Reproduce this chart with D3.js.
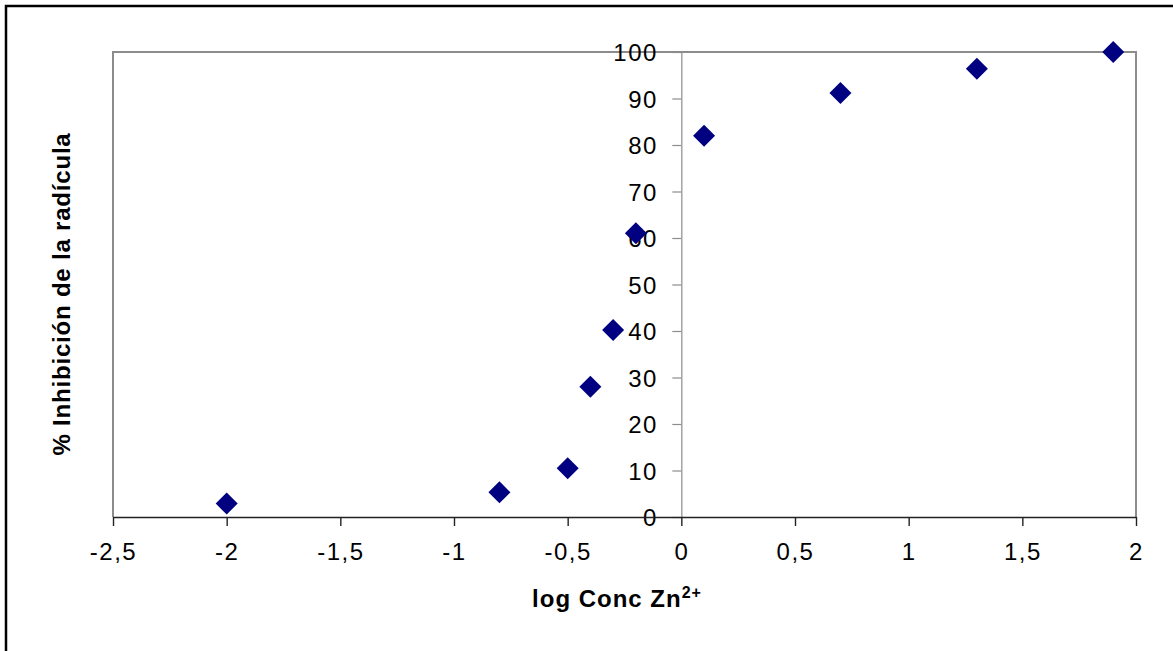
<!DOCTYPE html>
<html><head><meta charset="utf-8">
<script src="https://cdn.jsdelivr.net/npm/d3@7"></script>
<style>body{margin:0;background:#fff}svg{display:block}</style>
</head><body>
<script>
const xValues = [-2, -0.8, -0.5, -0.4, -0.3, -0.2, 0.1, 0.7, 1.3, 1.9];
const yValues = [2.9, 5.3, 10.5, 28, 40.2, 61, 82, 91.2, 96.4, 100];
const xTicks = [-2.5, -2, -1.5, -1, -0.5, 0, 0.5, 1, 1.5, 2];
const yTicks = [0, 10, 20, 30, 40, 50, 60, 70, 80, 90, 100];
const xTitle = "log Conc Zn";
const xTitleSup = "2+";
const yTitle = "% Inhibición de la radícula";

const W = 1173, H = 651;
const m = {left: 113, top: 52, right: 1136, bottom: 517};
const svg = d3.select("body").append("svg").attr("width", W).attr("height", H);

svg.append("rect").attr("x", 6).attr("y", 6).attr("width", 1300).attr("height", 800)
  .attr("fill", "none").attr("stroke", "#000").attr("stroke-width", 2.5);

const x = d3.scaleLinear().domain([-2.5, 2]).range([m.left, m.right]);
const y = d3.scaleLinear().domain([0, 100]).range([m.bottom, m.top]);
const font = "Liberation Sans, Arial, sans-serif";

// plot frame
svg.append("path")
  .attr("d", `M${m.left},${m.bottom}V${m.top}H${m.right}V${m.bottom}`)
  .attr("fill", "none").attr("stroke", "#8c8c8c").attr("stroke-width", 2);

// y axis at x=0
const ya = svg.append("g").attr("transform", `translate(${x(0)},0)`)
  .call(d3.axisLeft(y).tickValues(yTicks).tickSize(9).tickPadding(14.5).tickFormat(d3.format("d")));
ya.select(".domain").attr("stroke", "#8c8c8c").attr("stroke-width", 1.2);
ya.selectAll(".tick line").attr("stroke", "#8c8c8c").attr("stroke-width", 1.2);
ya.selectAll(".tick text").attr("font-family", font).attr("font-size", 24)
  .attr("letter-spacing", "1.5px").attr("fill", "#000").attr("dy", "0.36em");

// x axis
const fmt = d => String(d).replace(".", ",");
const xa = svg.append("g").attr("transform", `translate(0,${m.bottom})`)
  .call(d3.axisBottom(x).tickValues(xTicks).tickSize(9).tickPadding(17).tickFormat(fmt).tickSizeOuter(0));
xa.select(".domain").attr("stroke", "#222").attr("stroke-width", 1.6);
xa.selectAll(".tick line").attr("stroke", "#222").attr("stroke-width", 1.4);
xa.selectAll(".tick text").attr("font-family", font).attr("font-size", 24)
  .attr("letter-spacing", "1.5px").attr("fill", "#000");

// points
const pts = xValues.map((v, i) => [v, yValues[i]]);
svg.append("g").selectAll("path").data(pts).join("path")
  .attr("transform", d => `translate(${x(d[0])},${y(d[1])})`)
  .attr("d", "M0,-11L11,0L0,11L-11,0Z")
  .attr("fill", "#000080");

// titles
const xt = svg.append("text").attr("x", 617).attr("y", 607).attr("text-anchor", "middle")
  .attr("font-family", font).attr("font-size", 24).attr("font-weight", "bold")
  .attr("letter-spacing", "1px");
xt.append("tspan").text(xTitle);
xt.append("tspan").attr("font-size", 16).attr("dy", -9).text(xTitleSup);

svg.append("text").attr("transform", "translate(70,294) rotate(-90)")
  .attr("text-anchor", "middle").attr("font-family", font).attr("font-size", 24)
  .attr("font-weight", "bold").attr("letter-spacing", "0.8px").text(yTitle);
</script>
</body></html>
